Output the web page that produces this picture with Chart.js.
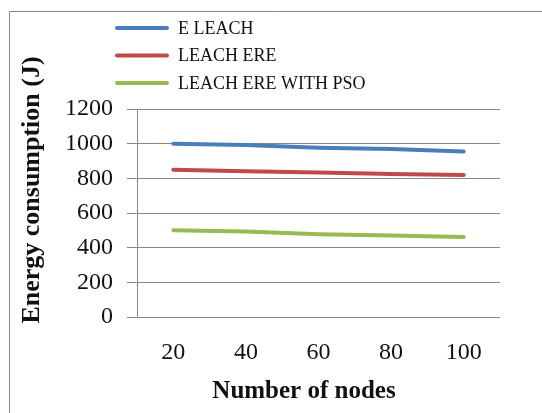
<!DOCTYPE html>
<html>
<head>
<meta charset="utf-8">
<script src="https://cdn.jsdelivr.net/npm/chart.js@4"></script>
<style>
  body { margin: 0; background: #fff; overflow: hidden; }
</style>
</head>
<body>
<canvas id="energyChart" width="542" height="413"></canvas>
<script>
// data
const nodeCounts = ['20', '40', '60', '80', '100'];
const eLeach = [1000, 992, 977, 969, 955];
const leachEre = [849, 841, 833, 825, 819];
const leachEreWithPso = [501, 493, 478, 470, 462];
const seriesNames = ['E LEACH', 'LEACH ERE', 'LEACH ERE WITH PSO'];
const seriesColors = ['#4a7ebb', '#be4b48', '#98b954'];
const xTitle = 'Number of nodes';
const yTitle = 'Energy consumption (J)';

const serif = "'Liberation Serif', 'Times New Roman', serif";

// outer frame (only left and top edges show in the picture)
const frame = {
    id: 'frame',
    beforeDraw(chart) {
        const c = chart.ctx;
        c.save();
        c.strokeStyle = '#8a8a8a';
        c.lineWidth = 1;
        c.beginPath();
        c.moveTo(9.5, 413);
        c.lineTo(9.5, 11.5);
        c.lineTo(542, 11.5);
        c.stroke();
        c.restore();
    }
};

// legend + axis titles drawn by hand so they sit where Excel put them
const decorations = {
    id: 'decorations',
    afterDraw(chart) {
        const c = chart.ctx;
        c.save();
        chart.data.datasets.forEach((ds, i) => {
            const y = 28 + i * 27.5;
            c.strokeStyle = ds.borderColor;
            c.lineWidth = 4;
            c.lineCap = 'round';
            c.beginPath();
            c.moveTo(117, y);
            c.lineTo(167, y);
            c.stroke();
            c.fillStyle = '#111';
            c.font = '18px ' + serif;
            c.textBaseline = 'middle';
            c.fillText(ds.label, 178, y + 1);
        });

        c.font = 'bold 25px ' + serif;
        c.fillStyle = '#111';
        c.textAlign = 'center';
        c.textBaseline = 'middle';
        c.fillText(xTitle, 304, 392);

        c.font = 'bold 26px ' + serif;
        c.translate(32, 190);
        c.rotate(-Math.PI / 2);
        c.fillText(yTitle, 0, 0);
        c.restore();
    }
};

const ctx = document.getElementById('energyChart').getContext('2d');
new Chart(ctx, {
    type: 'line',
    data: {
        labels: nodeCounts,
        datasets: [eLeach, leachEre, leachEreWithPso].map((vals, i) => ({
            label: seriesNames[i],
            data: vals,
            borderColor: seriesColors[i],
            backgroundColor: seriesColors[i],
            borderWidth: 4,
            borderCapStyle: 'round',
            pointRadius: 0,
            tension: 0
        }))
    },
    options: {
        responsive: false,
        animation: false,
        layout: { padding: { left: 10, top: 109, right: 42, bottom: 0 } },
        plugins: {
            legend: { display: false },
            tooltip: { enabled: false }
        },
        scales: {
            x: {
                offset: true,
                grid: { display: false, drawTicks: false },
                border: { display: false },
                ticks: { color: '#111', font: { family: serif, size: 24 }, padding: 21, maxRotation: 0 },
                afterFit: (scale) => { scale.height = 96; }
            },
            y: {
                min: 0,
                max: 1200,
                ticks: {
                    stepSize: 200, color: '#111', font: { family: serif, size: 24 }, padding: 14,
                    callback: (v) => String(v)
                },
                grid: { color: '#8a8a8a', lineWidth: 1, tickLength: 10 },
                border: { display: true, color: '#8a8a8a', width: 1 },
                afterFit: (scale) => { scale.width = 127; }
            }
        }
    },
    plugins: [frame, decorations]
});
</script>
</body>
</html>
